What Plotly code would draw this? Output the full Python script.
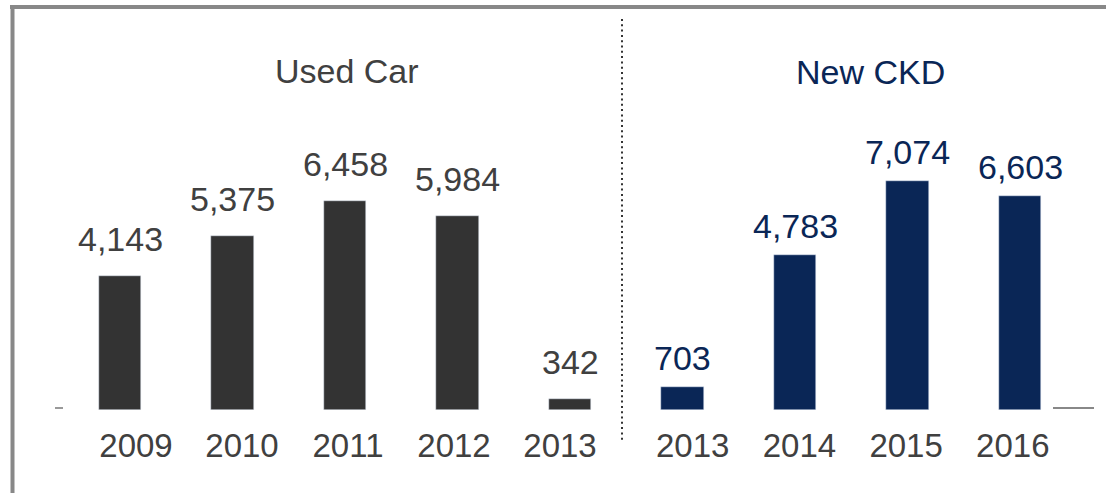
import plotly.graph_objects as go

# ---- data ----
used_years = ["2009", "2010", "2011", "2012", "2013"]
used_values = [4143, 5375, 6458, 5984, 342]
new_years = ["2013", "2014", "2015", "2016"]
new_values = [703, 4783, 7074, 6603]
group_titles = ["Used Car", "New CKD"]

DARK = "#333333"
DARK_TEXT = "#404040"
NAVY = "#0a2656"
FONT = "Liberation Sans, Arial, sans-serif"

W, H = 1106, 493
BASE_PX = 410          # pixel row of the baseline
PLOT_H = BASE_PX       # margin top 0
Y_MAX = 12678
STEP_PX = 112.5

n_used = len(used_years)
used_x = list(range(n_used))
new_x = [n_used + i for i in range(len(new_years))]

# tick labels sit on a slightly tighter spacing than the bars (as in the source)
def label_positions(xs, squeeze, offset_px):
    c = (xs[0] + xs[-1]) / 2
    return [c + (x - c) * squeeze + offset_px / STEP_PX for x in xs]

tick_pos = label_positions(used_x, 106 / 112.5, 3) + label_positions(new_x, 106.7 / 112.5, 1.5)

fig = go.Figure()
fig.add_trace(go.Bar(x=used_x, y=used_values, marker_color=DARK, width=0.382,
                     hoverinfo="skip", showlegend=False))
fig.add_trace(go.Bar(x=new_x, y=new_values, marker_color=NAVY, width=0.382,
                     hoverinfo="skip", showlegend=False))

annotations = []
for x, v in zip(used_x, used_values):
    annotations.append(dict(x=x, y=v, xref="x", yref="y", text=f"{v:,}",
                            showarrow=False, yanchor="bottom", yshift=16,
                            font=dict(family=FONT, size=34, color=DARK_TEXT)))
for x, v in zip(new_x, new_values):
    annotations.append(dict(x=x, y=v, xref="x", yref="y", text=f"{v:,}",
                            showarrow=False, yanchor="bottom", yshift=8,
                            font=dict(family=FONT, size=34, color=NAVY)))

def px_to_paper_y(py):
    return (BASE_PX - py) / PLOT_H

def px_to_paper_x(px):
    return px / W

annotations.append(dict(x=px_to_paper_x(347), y=px_to_paper_y(71), xref="paper", yref="paper",
                        text=group_titles[0], showarrow=False, yanchor="middle", xanchor="center",
                        font=dict(family=FONT, size=34, color=DARK_TEXT)))
annotations.append(dict(x=px_to_paper_x(870), y=px_to_paper_y(72), xref="paper", yref="paper",
                        text=group_titles[1], showarrow=False, yanchor="middle", xanchor="center",
                        font=dict(family=FONT, size=34, color=NAVY)))

shapes = [
    # frame: top and left
    dict(type="line", xref="paper", yref="paper", x0=px_to_paper_x(10), x1=1.0,
         y0=px_to_paper_y(7), y1=px_to_paper_y(7), line=dict(color="#888888", width=4)),
    dict(type="line", xref="paper", yref="paper", x0=px_to_paper_x(12.5), x1=px_to_paper_x(12.5),
         y0=px_to_paper_y(5), y1=px_to_paper_y(495), line=dict(color="#888888", width=4)),
    # dotted divider
    dict(type="line", xref="paper", yref="paper", x0=px_to_paper_x(622), x1=px_to_paper_x(622),
         y0=px_to_paper_y(19), y1=px_to_paper_y(441), line=dict(color="#333333", width=2, dash="2px,3.3px")),
    # small axis marks
    dict(type="line", xref="paper", yref="paper", x0=px_to_paper_x(55), x1=px_to_paper_x(63),
         y0=px_to_paper_y(408), y1=px_to_paper_y(408), line=dict(color="#999999", width=2)),
    dict(type="line", xref="paper", yref="paper", x0=px_to_paper_x(1053), x1=px_to_paper_x(1094),
         y0=px_to_paper_y(408), y1=px_to_paper_y(408), line=dict(color="#888888", width=2)),
]

fig.update_layout(
    width=W, height=H,
    margin=dict(l=0, r=0, t=0, b=H - BASE_PX, pad=0),
    paper_bgcolor="white", plot_bgcolor="white",
    annotations=annotations, shapes=shapes,
    bargap=0,
    xaxis=dict(range=[-120 / STEP_PX, (W - 120) / STEP_PX],
               tickvals=tick_pos, ticktext=used_years + new_years,
               tickfont=dict(family=FONT, size=33, color=DARK_TEXT),
               ticklabelstandoff=13,
               showgrid=False, zeroline=False, showline=False, ticks="",
               fixedrange=True),
    yaxis=dict(range=[0, Y_MAX], visible=False, showgrid=False, zeroline=False, fixedrange=True),
)

fig.write_html("out.html", config={"displayModeBar": False},
               post_script="document.body.style.margin='0';document.body.style.overflow='hidden';")
